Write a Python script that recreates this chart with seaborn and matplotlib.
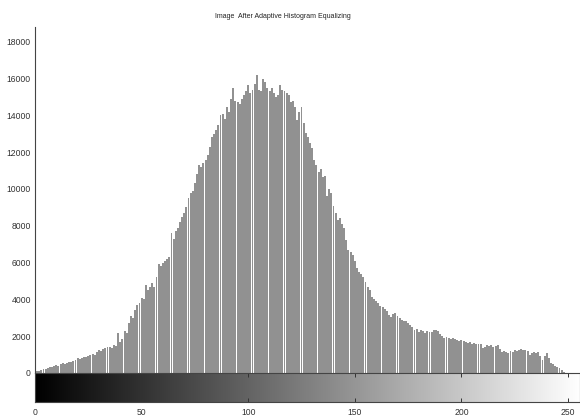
import numpy as np
import pandas as pd
import matplotlib
matplotlib.use("Agg")
import matplotlib.pyplot as plt
import seaborn as sns

title = "Image  After Adaptive Histogram Equalizing"
y_ticks = [0, 2000, 4000, 6000, 8000, 10000, 12000, 14000, 16000, 18000]
x_ticks = [0, 50, 100, 150, 200, 250]

counts = [
    60, 90, 130, 160, 200, 230, 260, 300, 340, 380,
    430, 400, 470, 520, 500, 560, 610, 580, 650, 700,
    800, 760, 820, 880, 850, 930, 980, 1050, 1000, 1120,
    1250, 1180, 1300, 1380, 1420, 1400, 1350, 1500, 1450, 2200,
    1700, 1850, 2300, 2150, 2700, 3100, 3000, 3400, 3700, 3800,
    4100, 4000, 4800, 4500, 4650, 4900, 4700, 5200, 5900, 5800,
    6000, 6100, 6200, 6300, 7600, 7300, 7700, 7900, 8200, 8500,
    8700, 9000, 9500, 9800, 9900, 10300, 10800, 11300, 11200, 11400,
    11600, 11850, 12300, 12800, 13000, 13200, 13500, 14000, 14100, 13800,
    14450, 14200, 14900, 15500, 14800, 14700, 14600, 14900, 15100, 15300,
    15650, 15200, 15400, 15700, 16200, 15400, 15300, 16000, 15800, 15500,
    15300, 15500, 15200, 15000, 15100, 15650, 15400, 15300, 15200, 15100,
    14700, 14800, 14450, 13750, 14200, 14450, 13600, 13050, 12800, 12500,
    12200, 11600, 11300, 10900, 11100, 10650, 10700, 9600, 10000, 9800,
    9100, 8700, 8300, 8400, 8100, 7900, 7200, 6700, 6600, 6400,
    6100, 5700, 5500, 5400, 5200, 4950, 4700, 4500, 4150, 4000,
    3900, 3800, 3650, 3600, 3500, 3350, 3150, 3050, 3200, 3250,
    3100, 3000, 2900, 2850, 2800, 2700, 2600, 2500, 2350, 2400,
    2250, 2350, 2300, 2200, 2300, 2250, 2250, 2350, 2350, 2300,
    2100, 2000, 1900, 1950, 1900, 1850, 1900, 1850, 1800, 1750,
    1800, 1750, 1700, 1650, 1700, 1600, 1650, 1550, 1600, 1550,
    1350, 1400, 1500, 1450, 1500, 1400, 1450, 1500, 1300, 1150,
    1200, 1150, 1100, 1200, 1150, 1250, 1200, 1250, 1300, 1250,
    1250, 1200, 1000, 1100, 1150, 1100, 1150, 900, 700, 950,
    1100, 800, 540, 500, 400, 330, 250, 150, 50, 20,
    0, 0, 0, 0, 0, 0,
]
bins = list(range(len(counts)))

sns.set_style("white")
plt.rcParams["font.family"] = ["Liberation Sans", "DejaVu Sans"]

fig = plt.figure(figsize=(5.8, 4.16), dpi=100)
ax = fig.add_axes([35 / 580, 1 - 373 / 416, 545 / 580, 346 / 416])

df = pd.DataFrame({"bin": bins, "count": counts})
sns.barplot(data=df, x="bin", y="count", native_scale=True, width=0.9,
            color="#919191", saturation=1, edgecolor="none", ax=ax)

xmax = 255.6
ax.set_xlim(0, xmax)
ax.set_ylim(0, 18800)
ax.set_xticks([])
ax.set_yticks(y_ticks)
ax.set_yticklabels([str(t) for t in y_ticks])
ax.set_xlabel("")
ax.set_ylabel("")
ax.tick_params(axis="y", direction="in", length=3, width=0.7,
               labelsize=6.2, colors="#333333", pad=3)
for s in ["top", "right", "bottom"]:
    ax.spines[s].set_visible(False)
ax.spines["left"].set_color("#444444")
ax.spines["left"].set_linewidth(0.8)

# gray-level colour bar below the histogram
cax = fig.add_axes([35 / 580, 1 - 402 / 416, 545 / 580, 29 / 416])
grad = np.linspace(0, 1, 256)[None, :]
cax.imshow(grad, cmap="gray", aspect="auto", extent=(0, xmax, 0, 1),
           vmin=0, vmax=1)
cax.set_xlim(0, xmax)
cax.set_ylim(0, 1)
cax.set_yticks([])
cax.set_xticks(x_ticks)
cax.set_xticklabels([str(t) for t in x_ticks])
cax.tick_params(axis="x", direction="in", top=True, bottom=True, length=3,
                width=0.7, labelsize=6.2, colors="#333333", pad=4)
for s in cax.spines.values():
    s.set_color("#444444")
    s.set_linewidth(0.8)

fig.text(283 / 580, 1 - 16 / 416, title, ha="center", va="center",
         fontsize=5, color="#222222")

fig.savefig("out.png", dpi=100)
